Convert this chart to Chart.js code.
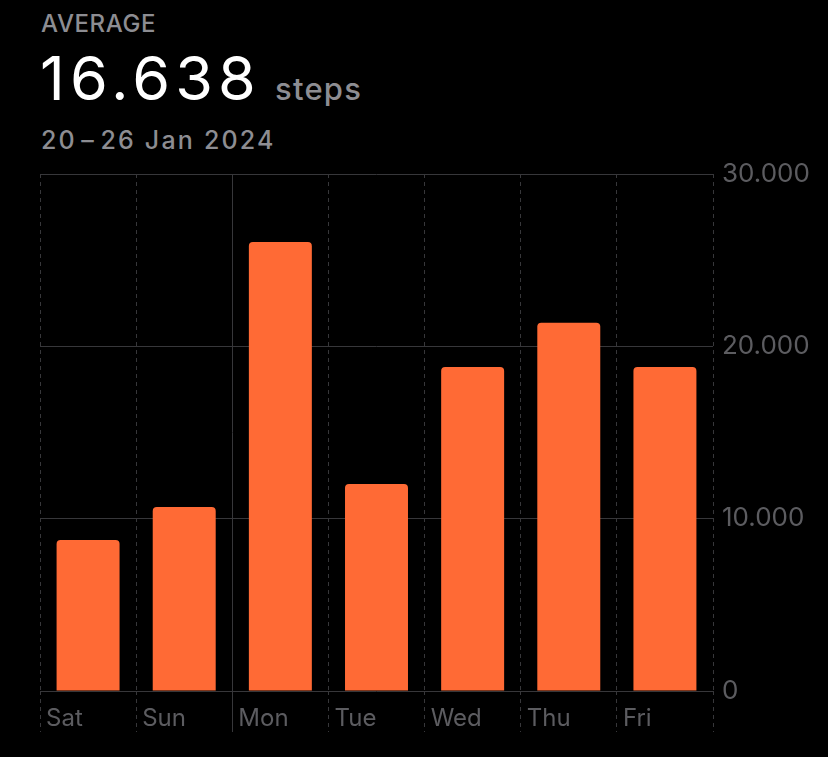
<!DOCTYPE html>
<html>
<head>
<meta charset="utf-8">
<script src="https://cdn.jsdelivr.net/npm/chart.js@4"></script>
<style>
  html, body { margin: 0; padding: 0; background: #000; width: 828px; height: 757px; overflow: hidden; }
  body { font-family: Inter, "Noto Sans", sans-serif; position: relative; }
  #label { position: absolute; left: 41px; top: 9px; font-size: 24px; color: #8d8d92; font-weight: 500; letter-spacing: 0.6px; }
  #value { position: absolute; left: 40px; top: 41px; font-size: 61px; color: #fff; font-weight: 400; letter-spacing: 5.2px; }
  #value span { font-size: 31px; color: #8d8d92; font-weight: 500; margin-left: 14px; letter-spacing: 1.2px; }
  #range { position: absolute; left: 41px; top: 125px; font-size: 25px; color: #8d8d92; font-weight: 500; letter-spacing: 2.2px; }
  #wrap { position: absolute; left: 0; top: 0; width: 828px; height: 757px; }
</style>
</head>
<body>
<div id="label">AVERAGE</div>
<div id="value">16.638<span>steps</span></div>
<div id="range">20&#8202;–&#8202;26 Jan 2024</div>
<div id="wrap"><canvas id="stepsChart"></canvas></div>
<script>
const days = ['Sat', 'Sun', 'Mon', 'Tue', 'Wed', 'Thu', 'Fri'];
const steps = [8760, 10680, 26060, 12010, 18800, 21370, 18800];
const yTicks = [0, 10000, 20000, 30000];

const gridColor = '#37373a';
const labelColor = '#5c5c60';
const weekStart = 2; // solid line before Mon

const ctx = document.getElementById('stepsChart').getContext('2d');
const chart = new Chart(ctx, {
  type: 'bar',
  data: {
    labels: days,
    datasets: [{
      data: steps,
      backgroundColor: '#ff6a35',
      borderRadius: 4,
      borderSkipped: 'start',
      categoryPercentage: 1,
      barPercentage: 0.655
    }]
  },
  options: {
    responsive: true,
    maintainAspectRatio: false,
    animation: false,
    layout: { padding: { left: 40, top: 174, right: 0, bottom: 0 } },
    plugins: { legend: { display: false }, tooltip: { enabled: false } },
    scales: {
      x: {
        grid: {
          offset: true,
          color: gridColor,
          lineWidth: 1,
          tickLength: 41,
          tickColor: gridColor,
          tickBorderDash: (c) => c.index === weekStart ? [] : [4, 4]
        },
        border: {
          display: false,
          dash: (c) => c.index === weekStart ? [] : [4, 4]
        },
        ticks: {
          color: labelColor,
          font: { family: 'Inter', size: 24 },
          align: 'start',
          labelOffset: -42,
          padding: -28,
          maxRotation: 0
        },
        afterFit: (scale) => { scale.height = 66; }
      },
      y: {
        position: 'right',
        min: 0,
        max: 30000,
        afterBuildTicks: (scale) => { scale.ticks = yTicks.map(v => ({ value: v })); },
        grid: { color: gridColor, drawTicks: false },
        border: { display: false },
        ticks: {
          color: labelColor,
          font: { family: 'Inter', size: 26 },
          padding: 9,
          callback: (v) => v === 0 ? '0' : v.toLocaleString('de-DE')
        },
        afterFit: (scale) => { scale.width = 115; }
      }
    }
  }
});
</script>
</body>
</html>
